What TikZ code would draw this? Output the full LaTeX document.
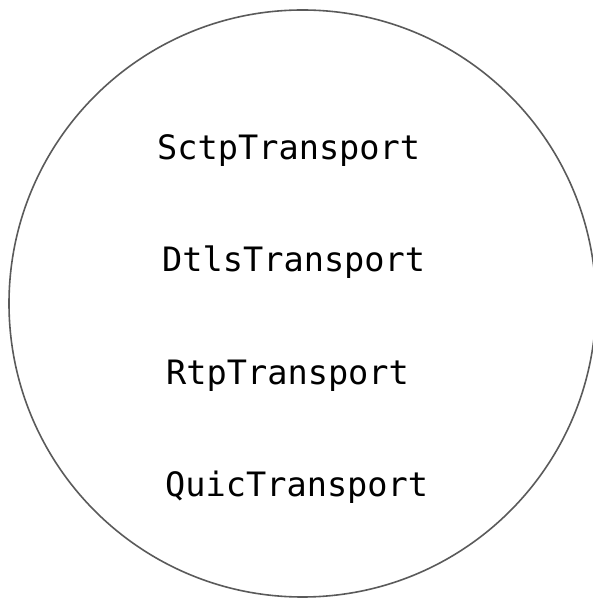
\documentclass[tikz,border=0pt]{standalone}
\usepackage{xcolor}
\usepackage{fontspec}
\setmonofont{DejaVu Sans Mono}
\usepackage{tikz}
\usetikzlibrary{positioning}
\definecolor{ringgray}{HTML}{5A5A5A}
\tikzset{
    ring/.style={circle, draw=ringgray, line width=1.6pt, minimum size=587pt, inner sep=0pt},
    transport/.style={anchor=base west, inner sep=0pt, font=\ttfamily\fontsize{33.6}{40}\selectfont}
}

\begin{document}
\begin{tikzpicture}[x=1pt, y=1pt]
    % Page frame
    \useasboundingbox (0,0) rectangle (593,599);
    \clip (0,0) rectangle (593,599);

    % Outer ring
    \node[ring] (stack) at (302.5, 295.5) {};

    % Transports
    \node[transport] (sctp) at (157, 439) {SctpTransport};
    \node[transport] (dtls) at (162, 327) {DtlsTransport};
    \node[transport] (rtp) at (166, 214) {RtpTransport};
    \node[transport] (quic) at (165, 102) {QuicTransport};
\end{tikzpicture}
\end{document}
